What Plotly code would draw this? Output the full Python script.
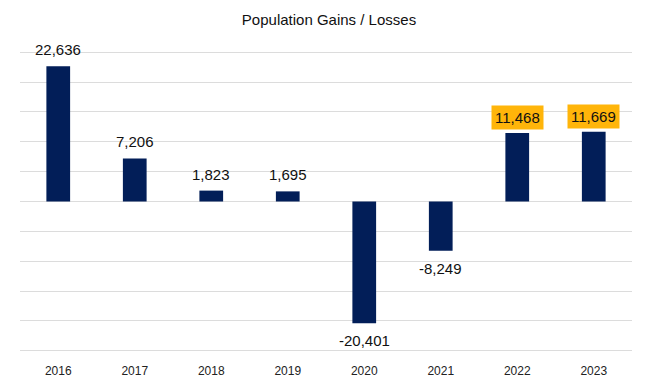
import plotly.graph_objects as go

years = ["2016", "2017", "2018", "2019", "2020", "2021", "2022", "2023"]
values = [22636, 7206, 1823, 1695, -20401, -8249, 11468, 11669]
labels = ["22,636", "7,206", "1,823", "1,695", "-20,401", "-8,249", "11,468", "11,669"]
highlight = [False, False, False, False, False, False, True, True]

BAR = "#021E58"
GRID = "#DCDCDC"
FONT = "Liberation Sans, Arial, Helvetica, sans-serif"

pos = list(range(len(years)))

fig = go.Figure(go.Bar(x=pos, y=values, marker=dict(color=BAR, line=dict(width=0)),
                       hoverinfo="skip"))

for i, v, lab, hl in zip(pos, values, labels, highlight):
    if hl:
        fig.add_annotation(x=i, y=v, text=lab, showarrow=False, yanchor="bottom",
                           yshift=3, bgcolor="#FFB50A", borderpad=3,
                           font=dict(family=FONT, size=15, color="#111"))
    elif v >= 0:
        fig.add_annotation(x=i, y=v, text=lab, showarrow=False, yanchor="bottom",
                           yshift=6, font=dict(family=FONT, size=15, color="#111"))
    else:
        fig.add_annotation(x=i, y=v, text=lab, showarrow=False, yanchor="top",
                           yshift=-7, font=dict(family=FONT, size=15, color="#111"))

# page body has an 8px margin; size the figure so it ends at the window edge
fig.update_layout(
    width=642, height=382,
    margin=dict(l=12, r=18, t=43, b=34),
    paper_bgcolor="white", plot_bgcolor="white",
    title=dict(text="Population Gains / Losses", x=0.5, xanchor="center",
               y=1 - 12 / 382, yanchor="middle",
               font=dict(family=FONT, size=15, color="#111")),
    bargap=0.69,
    showlegend=False,
    font=dict(family=FONT, color="#222"),
)
fig.update_xaxes(range=[-0.5, len(years) - 0.5], tickvals=pos, ticktext=years,
                 showgrid=False, zeroline=False, showline=False,
                 ticks="outside", ticklen=8, tickcolor="rgba(0,0,0,0)",
                 tickfont=dict(size=12, color="#222"))
fig.update_yaxes(range=[-25200, 25200], tickvals=[-25000, -20000, -15000, -10000, -5000, 0,
                                                  5000, 10000, 15000, 20000, 25000],
                 showticklabels=False, gridcolor=GRID,
                 gridwidth=1, zeroline=True, zerolinecolor=GRID, zerolinewidth=1, showline=False)

fig.write_html("out.html")
